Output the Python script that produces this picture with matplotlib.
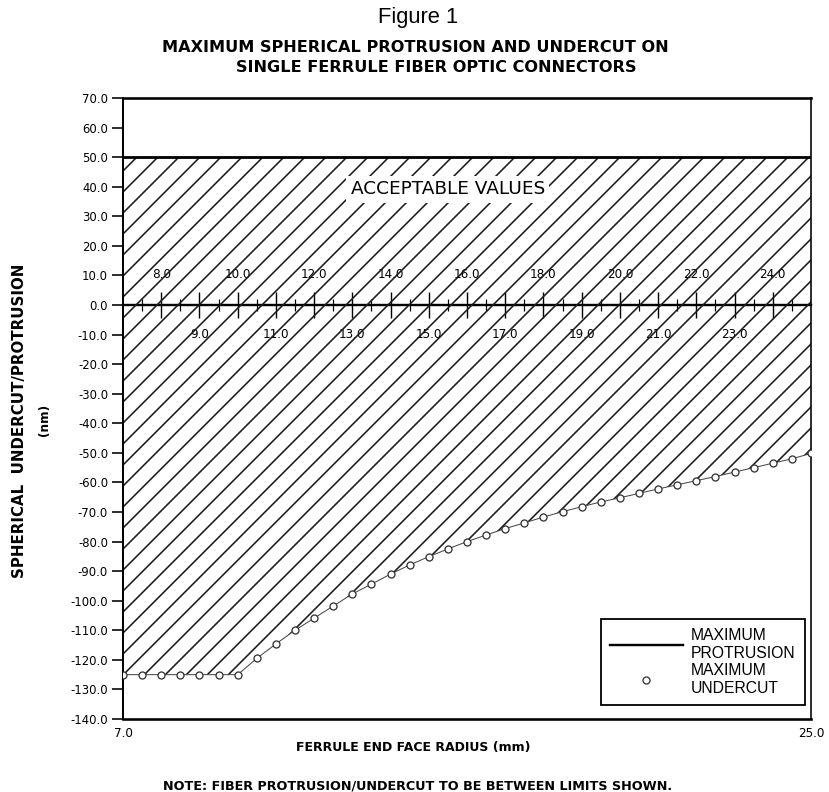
"""
Figure 1 - max spherical protrusion / undercut vs ferrule end face radius
"""
import numpy as np
import matplotlib
matplotlib.use("Agg")
import matplotlib.pyplot as plt

DPI = 126            # hatch spacing follows dpi, 126 gives the scan's ~21 px pitch
PT = 72.0 / DPI      # pixels -> points

# ---- data ----
radius_mm = [7.0, 7.5, 8.0, 8.5, 9.0, 9.5, 10.0, 10.5, 11.0, 11.5, 12.0, 12.5,
             13.0, 13.5, 14.0, 14.5, 15.0, 15.5, 16.0, 16.5, 17.0, 17.5, 18.0,
             18.5, 19.0, 19.5, 20.0, 20.5, 21.0, 21.5, 22.0, 22.5, 23.0, 23.5,
             24.0, 24.5, 25.0]
undercut_nm = [-125.0, -125.0, -125.0, -125.0, -125.0, -125.0, -125.0, -119.5,
               -114.6, -110.0, -105.9, -101.8, -97.7, -94.4, -91.0, -87.9,
               -85.1, -82.5, -80.0, -77.8, -75.6, -73.7, -71.7, -69.9, -68.2,
               -66.6, -65.2, -63.7, -62.2, -60.8, -59.4, -58.0, -56.5, -55.0,
               -53.5, -52.0, -50.2]
prot_radius = [7.0, 25.0]
prot_nm = [50.0, 50.0]
MAX_PROT = 50.0

y_ticks = np.arange(-140, 71, 10)
even_ticks = [8, 10, 12, 14, 16, 18, 20, 22, 24]
odd_ticks = [9, 11, 13, 15, 17, 19, 21, 23]
half_ticks = np.arange(7.5, 25, 1.0)
XMIN, XMAX = 7.0, 25.0
YMIN, YMAX = -140.0, 70.0

plt.rcParams['hatch.linewidth'] = 1.6 * PT

fig = plt.figure(figsize=(829 / DPI, 792 / DPI), dpi=DPI)
ax = fig.add_axes([123 / 829, 73 / 792, 688 / 829, 621 / 792])

# hatched acceptable region
ax.fill_between(radius_mm, undercut_nm, MAX_PROT, facecolor='none',
                edgecolor='#1c1c1c', hatch='//', linewidth=0, zorder=1)

ax.plot(prot_radius, prot_nm, color='black', lw=2.8 * PT, zorder=3,
        solid_capstyle='butt')
ax.plot(radius_mm, undercut_nm, '-', color='#444444', lw=1.0 * PT,
        marker='o', ms=7 * PT, mfc='white', mec='#333333', mew=1.3 * PT, zorder=4)

ax.set_xlim(XMIN, XMAX)
ax.set_ylim(YMIN, YMAX)

# left axis
ax.set_yticks(y_ticks, labels=[f"{v:.1f}" for v in y_ticks])
ax.tick_params(axis='y', direction='out', length=11 * PT, width=1.6 * PT,
               labelsize=11.7 * PT, pad=4 * PT)
ax.set_xticks([XMIN, XMAX], labels=[f"{XMIN:.1f}", f"{XMAX:.1f}"])
ax.tick_params(axis='x', length=0, labelsize=12 * PT, pad=8 * PT)

ax.spines['left'].set_linewidth(2.0 * PT)
ax.spines['top'].set_linewidth(2.6 * PT)
ax.spines['bottom'].set_linewidth(2.6 * PT)
ax.spines['right'].set_linewidth(1.6 * PT)

# radius scale drawn on the zero line
zero_loc = (0 - YMIN) / (YMAX - YMIN)
sec_even = ax.secondary_xaxis(zero_loc)
sec_even.set_xticks(even_ticks, labels=[f"{v:.1f}" for v in even_ticks])
sec_even.set_xticks(half_ticks, minor=True)
sec_even.tick_params(which='major', direction='inout', length=26 * PT,
                     width=1.4 * PT, labelsize=12 * PT, pad=6.0)
sec_even.tick_params(which='minor', direction='inout', length=12 * PT,
                     width=1.2 * PT)
sec_even.spines['top'].set_linewidth(2.2 * PT)

sec_odd = ax.secondary_xaxis(zero_loc)
sec_odd.set_alignment('bottom')
sec_odd.set_xticks(odd_ticks, labels=[f"{v:.1f}" for v in odd_ticks])
sec_odd.tick_params(which='major', direction='inout', length=26 * PT,
                    width=1.4 * PT, labelsize=12 * PT, pad=5.5)
sec_odd.spines['bottom'].set_linewidth(2.2 * PT)

ax.text(0.472, 0.853, "ACCEPTABLE VALUES", transform=ax.transAxes,
        ha='center', va='center', fontsize=18.5 * PT, zorder=5,
        bbox=dict(boxstyle='square,pad=0.25', facecolor='white', edgecolor='none'))

# legend
h_prot, = ax.plot([], [], color='black', lw=2.4 * PT)
h_under, = ax.plot([], [], ls='none', marker='o', ms=7 * PT, mfc='white',
                   mec='#333333', mew=1.3 * PT)
leg = ax.legend([h_prot, h_under], ["MAXIMUM\nPROTRUSION", "MAXIMUM\nUNDERCUT"],
                loc='lower right', bbox_to_anchor=(0.991, 0.0225),
                borderaxespad=0, fancybox=False, framealpha=1,
                edgecolor='black', handlelength=4.6, handletextpad=0.5,
                labelspacing=0.15, borderpad=0.6,
                prop={'family': 'Liberation Sans', 'size': 15.8 * PT})
leg.get_frame().set_linewidth(1.8 * PT)
leg.set_zorder(6)

# titles and labels
fig.text(418 / 829, 1 - 18 / 792, "Figure 1", ha='center', va='center',
         family='Liberation Sans', fontsize=22 * PT)
fig.text(415 / 829, 1 - 47 / 792, "MAXIMUM SPHERICAL PROTRUSION AND UNDERCUT ON",
         ha='center', va='center', fontweight='bold', fontsize=16.1 * PT)
fig.text(436 / 829, 1 - 68 / 792, "SINGLE FERRULE FIBER OPTIC CONNECTORS",
         ha='center', va='center', fontweight='bold', fontsize=16.1 * PT)
fig.text(20 / 829, 1 - 421 / 792, "SPHERICAL  UNDERCUT/PROTRUSION",
         rotation=90, ha='center', va='center', fontweight='bold', fontsize=15 * PT)
fig.text(45 / 829, 1 - 420 / 792, "(nm)", rotation=90, ha='center', va='center',
         fontweight='bold', fontsize=12 * PT)
fig.text(413 / 829, 1 - 748 / 792, "FERRULE END FACE RADIUS (mm)",
         ha='center', va='center', fontweight='bold', fontsize=12.5 * PT)
fig.text(418 / 829, 1 - 786 / 792,
         "NOTE: FIBER PROTRUSION/UNDERCUT TO BE BETWEEN LIMITS SHOWN.",
         ha='center', va='center', fontweight='bold', fontsize=12.8 * PT)

fig.savefig("out.png", dpi=DPI)
